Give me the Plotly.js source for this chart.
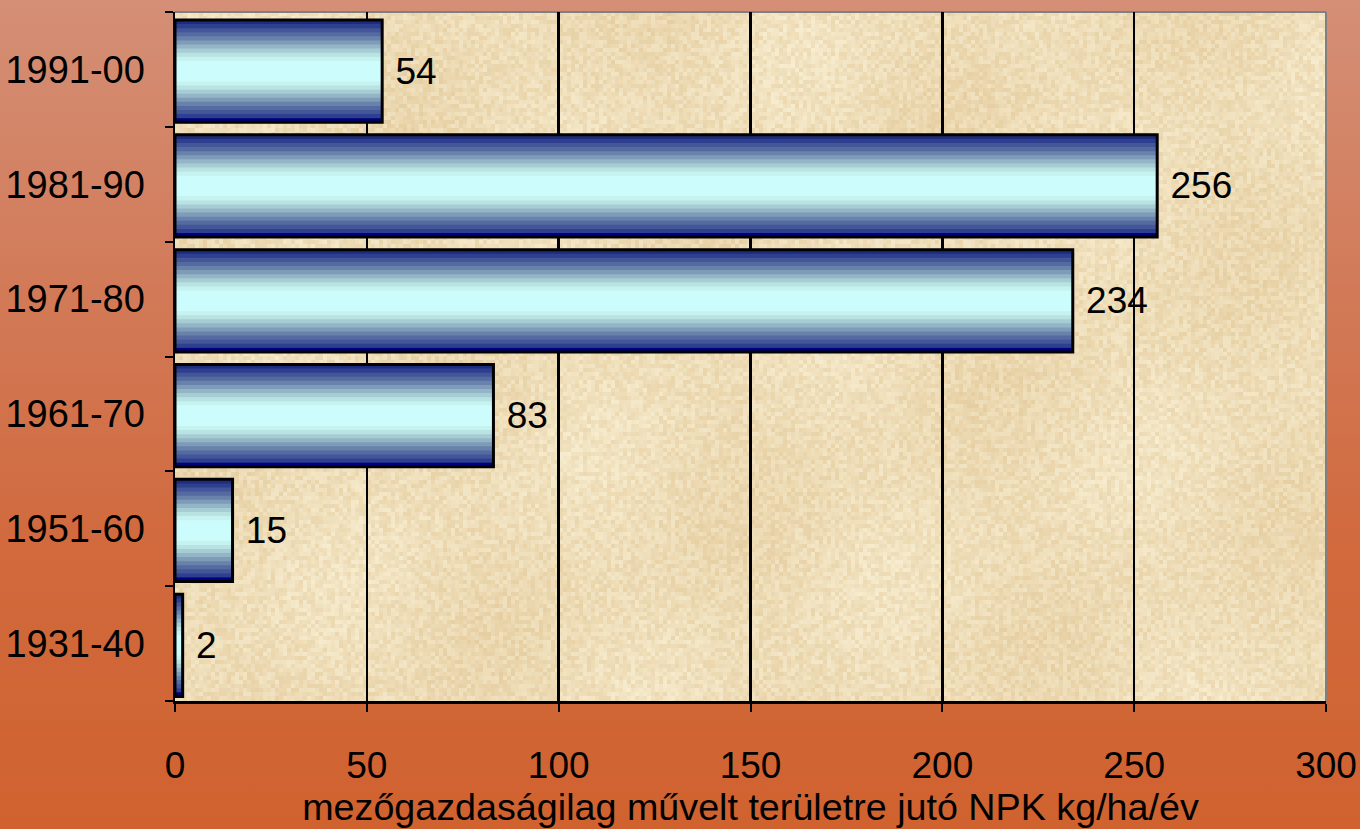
<!DOCTYPE html>
<html>
<head>
<meta charset="utf-8">
<script src="https://cdn.plot.ly/plotly-3.0.1.min.js"></script>
<style>
  html, body { margin: 0; padding: 0; }
  body {
    width: 1360px; height: 829px; overflow: hidden;
    background: linear-gradient(to bottom, #d48f76 0%, #d27a58 35%, #d16a3e 65%, #d0622f 100%);
  }
  #chart { width: 1360px; height: 829px; }
</style>
</head>
<body>
<div id="chart"></div>
<script>
// Decades and average NPK fertiliser use per hectare of farmland (kg/ha/year)
const periods = ['1931-40', '1951-60', '1961-70', '1971-80', '1981-90', '1991-00'];
const npkValues = [2, 15, 83, 234, 256, 54];
const xTicks = [0, 50, 100, 150, 200, 250, 300];

// Cylinder-like shading: bands from the bar edge towards its centre line
const shadeColors = ['#1e2c7e', '#2f3f8f', '#435698', '#546aa0', '#6982ac', '#7e9bb8',
                     '#93b5c6', '#a7cdd4', '#b9e2e2', '#c6f2f0', '#ccfcfc'];
const barWidth = 0.89;
const step = 0.071;
const shift = -0.015;   // bars sit a touch below the category centre

const FONT = 'Liberation Sans, Arial, sans-serif';

const traces = [];
shadeColors.forEach((c, i) => {
  const w = barWidth - i * step;
  traces.push({
    type: 'bar', orientation: 'h',
    y: periods, x: npkValues,
    width: w, offset: shift - w / 2,
    marker: { color: c, line: { width: 0 } },
    hoverinfo: 'skip', showlegend: false
  });
});
// darker navy rim along the lower edge of each bar
traces.push({
  type: 'bar', orientation: 'h',
  y: periods, x: npkValues,
  width: 0.035, offset: shift - barWidth / 2,
  marker: { color: '#000080', line: { width: 0 } },
  hoverinfo: 'skip', showlegend: false
});
// outline and value labels
traces.push({
  type: 'bar', orientation: 'h',
  y: periods, x: npkValues,
  width: barWidth, offset: shift - barWidth / 2,
  marker: { color: 'rgba(0,0,0,0)', line: { color: '#000000', width: 3 } },
  text: npkValues.map(v => '\u00a0' + v),
  textposition: 'outside',
  cliponaxis: false,
  textfont: { family: FONT, size: 37, color: '#000000' },
  showlegend: false
});

// parchment texture for the plotting area
function parchment(w, h) {
  const cv = document.createElement('canvas');
  cv.width = w; cv.height = h;
  const ctx = cv.getContext('2d');
  let seed = 12345;
  const rnd = () => { seed = (seed * 1103515245 + 12345) & 0x7fffffff; return seed / 0x7fffffff; };
  const cell = 4;
  for (let y = 0; y < h; y += cell) {
    for (let x = 0; x < w; x += cell) {
      const n = rnd();
      const blot = Math.sin(x * 0.017 + y * 0.009) * Math.cos(y * 0.013 - x * 0.006);
      const d = (n - 0.5) * 24 + blot * 8;
      const r = Math.round(238 + d * 0.45);
      const g = Math.round(221 + d * 0.8);
      const b = Math.round(184 + d * 1.2);
      ctx.fillStyle = `rgb(${r},${g},${b})`;
      ctx.fillRect(x, y, cell, cell);
    }
  }
  return cv.toDataURL('image/png');
}

const layout = {
  width: 1360, height: 829,
  margin: { l: 175, r: 34, t: 12, b: 128 },
  paper_bgcolor: 'rgba(0,0,0,0)',
  plot_bgcolor: 'rgba(0,0,0,0)',
  barmode: 'overlay',
  font: { family: FONT, size: 37, color: '#000000' },
  xaxis: {
    range: [0, 300],
    tickvals: xTicks,
    ticktext: xTicks.map(String),
    ticks: 'outside', ticklen: 8, tickwidth: 2, tickcolor: '#000000',
    ticklabelstandoff: 22,
    showgrid: true, gridcolor: '#000000', gridwidth: 2.5,
    zeroline: false,
    showline: true, linecolor: '#000000', linewidth: 2.5,
    tickfont: { family: FONT, size: 37, color: '#000000' },
    title: {
      text: 'mezőgazdaságilag művelt területre jutó NPK kg/ha/év',
      font: { family: FONT, size: 37.7, color: '#000000' },
      standoff: 2
    },
    fixedrange: true
  },
  yaxis: {
    type: 'category',
    tickson: 'boundaries',
    ticks: 'outside', ticklen: 8, tickwidth: 2, tickcolor: '#000000',
    ticklabelstandoff: 20,
    showgrid: false, zeroline: false,
    showline: true, linecolor: '#000000', linewidth: 2.5,
    tickfont: { family: FONT, size: 38, color: '#000000' },
    fixedrange: true
  },
  images: [{
    source: parchment(1151, 689),
    xref: 'paper', yref: 'paper',
    x: 0, y: 1, sizex: 1, sizey: 1,
    xanchor: 'left', yanchor: 'top',
    sizing: 'stretch', layer: 'below'
  }],
  shapes: [
    { type: 'line', xref: 'paper', yref: 'paper', x0: 0, x1: 1, y0: 1, y1: 1,
      line: { color: '#808080', width: 2 }, layer: 'below' },
    { type: 'line', xref: 'paper', yref: 'paper', x0: 1, x1: 1, y0: 0, y1: 1,
      line: { color: '#808080', width: 2 }, layer: 'below' }
  ]
};

Plotly.newPlot('chart', traces, layout, { displayModeBar: false, staticPlot: true });
</script>
</body>
</html>
